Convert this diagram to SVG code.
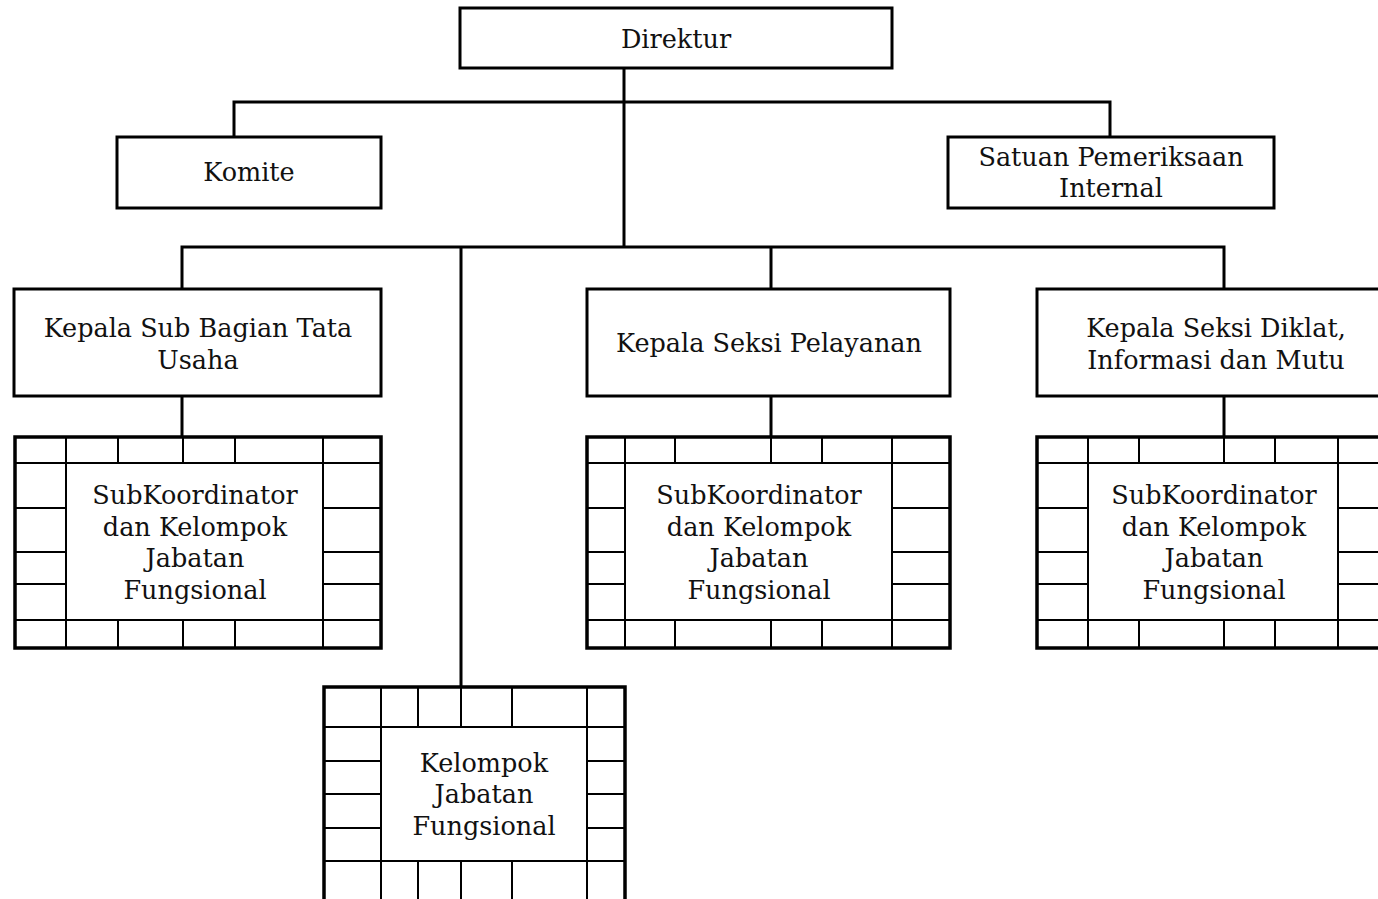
<svg xmlns="http://www.w3.org/2000/svg" width="1378" height="899" viewBox="0 0 1378 899">
<style>
.box{fill:#fff;stroke:#000;stroke-width:3}
.c{fill:none;stroke:#000;stroke-width:3}
.g{fill:none;stroke:#000;stroke-width:2}
.o{fill:none;stroke:#000;stroke-width:3.5}
text{font-family:"DejaVu Serif","Liberation Serif",serif;font-size:25.5px;fill:#111;text-anchor:middle}
</style>
<rect width="1378" height="899" fill="#fff"/>
<g id="connectors">
<path class="c" d="M624 68V247M234 137V102H1110V137M182 289V247H1224V289M461 247V687M771 247V289M182 396V437M771 396V437M1224 396V437"/>
</g>
<g id="direktur"><rect class="box" x="460" y="8" width="432" height="60"/><text x="676" y="48">Direktur</text></g>
<g id="komite"><rect class="box" x="117" y="137" width="264" height="71"/><text x="249" y="181">Komite</text></g>
<g id="spi"><rect class="box" x="948" y="137" width="326" height="71"/><text x="1111" y="166">Satuan Pemeriksaan</text><text x="1111" y="197">Internal</text></g>
<g id="kasubag"><rect class="box" x="14" y="289" width="367" height="107"/><text x="198" y="337">Kepala Sub Bagian Tata</text><text x="198" y="369">Usaha</text></g>
<g id="kasie-pelayanan"><rect class="box" x="587" y="289" width="363" height="107"/><text x="769" y="352">Kepala Seksi Pelayanan</text></g>
<g id="kasie-diklat"><rect class="box" x="1037" y="289" width="360" height="107"/><text x="1216" y="337">Kepala Seksi Diklat,</text><text x="1216" y="369">Informasi dan Mutu</text></g>
<g id="sub1">
<rect class="o" x="15" y="437" width="366" height="211" fill="#fff"/>
<path class="g" d="M15 463H381M15 620H381M66 463V620M323 463V620M66 437V463M118 437V463M183 437V463M235 437V463M323 437V463M66 620V648M118 620V648M183 620V648M235 620V648M323 620V648M15 508H66M15 552H66M15 584H66M323 508H381M323 552H381M323 584H381"/>
<text x="195" y="504">SubKoordinator</text><text x="195" y="536">dan Kelompok</text><text x="195" y="567">Jabatan</text><text x="195" y="599">Fungsional</text>
</g>
<g id="sub2">
<rect class="o" x="587" y="437" width="363" height="211" fill="#fff"/>
<path class="g" d="M587 463H950M587 620H950M625 463V620M892 463V620M625 437V463M675 437V463M771 437V463M822 437V463M892 437V463M625 620V648M675 620V648M771 620V648M822 620V648M892 620V648M587 508H625M587 552H625M587 584H625M892 508H950M892 552H950M892 584H950"/>
<text x="759" y="504">SubKoordinator</text><text x="759" y="536">dan Kelompok</text><text x="759" y="567">Jabatan</text><text x="759" y="599">Fungsional</text>
</g>
<g id="sub3">
<rect class="o" x="1037" y="437" width="360" height="211" fill="#fff"/>
<path class="g" d="M1037 463H1397M1037 620H1397M1088 463V620M1338 463V620M1088 437V463M1139 437V463M1224 437V463M1275 437V463M1338 437V463M1088 620V648M1139 620V648M1224 620V648M1275 620V648M1338 620V648M1037 508H1088M1037 552H1088M1037 584H1088M1338 508H1397M1338 552H1397M1338 584H1397"/>
<text x="1214" y="504">SubKoordinator</text><text x="1214" y="536">dan Kelompok</text><text x="1214" y="567">Jabatan</text><text x="1214" y="599">Fungsional</text>
</g>
<g id="jabfung">
<path class="o" d="M324 905V687H625V905" fill="#fff"/>
<path class="g" d="M324 727H625M324 861H625M381 727V861M587 727V861M381 687V727M418 687V727M461 687V727M512 687V727M587 687V727M381 861V905M418 861V905M461 861V905M512 861V905M587 861V905M324 761H381M324 794H381M324 828H381M587 761H625M587 794H625M587 828H625"/>
<text x="484" y="772">Kelompok</text><text x="484" y="803">Jabatan</text><text x="484" y="835">Fungsional</text>
</g>
</svg>
